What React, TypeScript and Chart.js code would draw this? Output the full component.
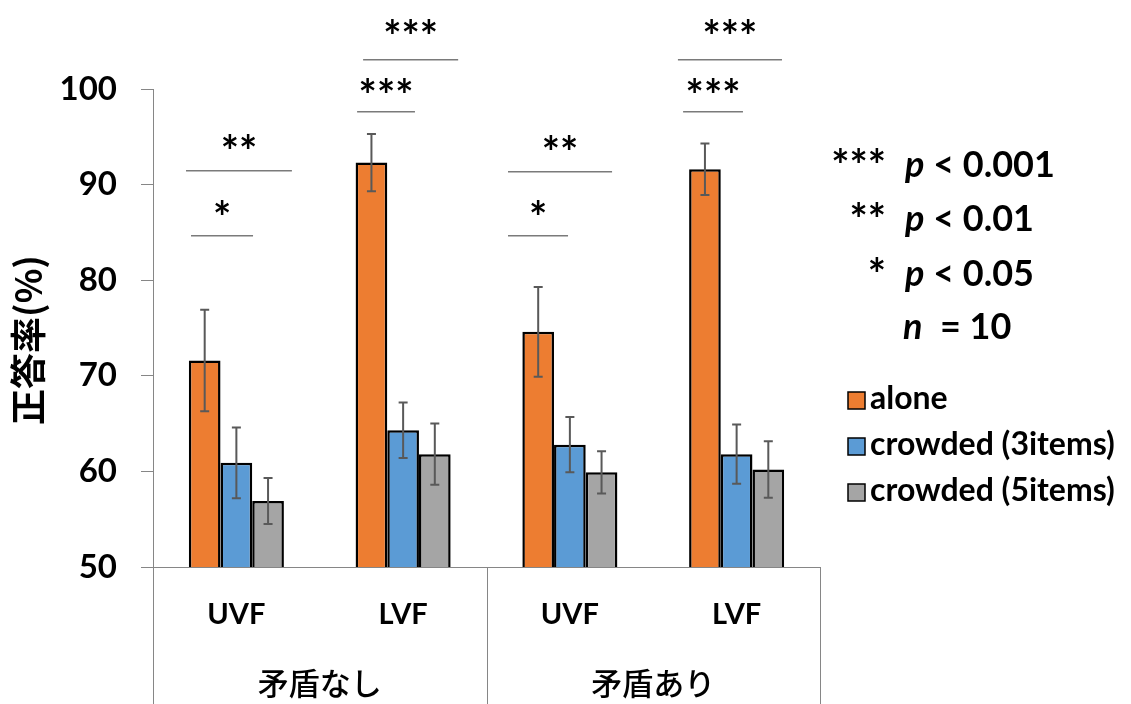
import { useEffect, useRef } from "react";
import { Chart, registerables } from "chart.js";
Chart.register(...registerables);

const categories = ["UVF", "LVF", "UVF", "LVF"];
const groups = ["矛盾なし", "矛盾あり"];
const seriesNames = ["alone", "crowded (3items)", "crowded (5items)"];
const aloneMean = [71.6, 92.3, 74.6, 91.6];
const aloneErr = [5.3, 3.0, 4.7, 2.7];
const crowded3Mean = [60.9, 64.3, 62.8, 61.8];
const crowded3Err = [3.7, 2.9, 2.9, 3.1];
const crowded5Mean = [56.9, 61.8, 59.9, 60.2];
const crowded5Err = [2.4, 3.2, 2.2, 2.95];
const yMin = 50;
const yMax = 100;
const yStep = 10;
const yTitle = "正答率(%)";

// significance brackets: category index, left/right offset (category units), line value, label value
const sigCat = [0, 0, 1, 1, 2, 2, 3, 3];
const sigFrom = [-0.302, -0.272, -0.24, -0.276, -0.371, -0.371, -0.352, -0.321];
const sigTo = [0.333, 0.1, 0.33, 0.071, 0.253, -0.011, 0.272, 0.038];
const sigLineVal = [91.45, 84.64, 103.07, 97.63, 91.34, 84.64, 103.07, 97.63];
const sigLabelVal = [94.48, 87.6, 106.5, 100.4, 94.4, 87.6, 106.5, 100.4];
const sigLabel = ["**", "*", "***", "***", "**", "*", "***", "***"];

const noteStars = ["***", "**", "*", ""];
const noteVar = ["p", "p", "p", "n"];
const noteRest = [" < 0.001", " < 0.01", " < 0.05", "  = 10"];

const colors = ["#ED7D31", "#5B9BD5", "#A5A5A5"];
const errors = [aloneErr, crowded3Err, crowded5Err];
const FONT = "Lato, 'Noto Sans', sans-serif";
const CJK = "'Noto Sans CJK JP', 'Noto Sans', sans-serif";

function fillMid(ctx: CanvasRenderingContext2D, text: string, x: number, cy: number, align: CanvasTextAlign) {
  ctx.textAlign = align;
  ctx.textBaseline = "alphabetic";
  const m = ctx.measureText(text);
  ctx.fillText(text, x, cy + (m.actualBoundingBoxAscent - m.actualBoundingBoxDescent) / 2);
}

const overlay = {
  id: "overlay",
  afterDatasetsDraw(chart: any) {
    const ctx: CanvasRenderingContext2D = chart.ctx;
    const ys = chart.scales.y;
    chart.data.datasets.forEach((ds: any, di: number) => {
      const meta = chart.getDatasetMeta(di);
      meta.data.forEach((bar: any, i: number) => {
        const m = ds.data[i];
        const e = errors[di][i];
        const top = ys.getPixelForValue(m + e);
        const bot = ys.getPixelForValue(m - e);
        ctx.save();
        ctx.strokeStyle = "#595959";
        ctx.lineWidth = 2;
        ctx.beginPath();
        ctx.moveTo(bar.x, top);
        ctx.lineTo(bar.x, bot);
        ctx.moveTo(bar.x - 4.5, top);
        ctx.lineTo(bar.x + 4.5, top);
        ctx.moveTo(bar.x - 4.5, bot);
        ctx.lineTo(bar.x + 4.5, bot);
        ctx.stroke();
        ctx.restore();
      });
    });
  },
  afterDraw(chart: any) {
    const ctx: CanvasRenderingContext2D = chart.ctx;
    const xs = chart.scales.x;
    const ys = chart.scales.y;
    const area = chart.chartArea;
    const unit = xs.getPixelForValue(1) - xs.getPixelForValue(0);
    ctx.save();
    // brackets
    for (let k = 0; k < sigCat.length; k++) {
      const c = xs.getPixelForValue(sigCat[k]);
      const x0 = c + sigFrom[k] * unit;
      const x1 = c + sigTo[k] * unit;
      const ly = ys.getPixelForValue(sigLineVal[k]);
      ctx.strokeStyle = "#7a7a7a";
      ctx.lineWidth = 1.5;
      ctx.beginPath();
      ctx.moveTo(x0, ly);
      ctx.lineTo(x1, ly);
      ctx.stroke();
      ctx.fillStyle = "#000";
      ctx.font = `bold 43px ${FONT}`;
      fillMid(ctx, sigLabel[k], (x0 + x1) / 2, ys.getPixelForValue(sigLabelVal[k]), "center");
    }
    // group separators and labels
    const H = chart.height;
    const seps = [area.left, (xs.getPixelForValue(1) + xs.getPixelForValue(2)) / 2, area.right];
    ctx.strokeStyle = "#868686";
    ctx.lineWidth = 1;
    seps.forEach((sx) => {
      ctx.beginPath();
      ctx.moveTo(Math.round(sx) + 0.5, area.bottom);
      ctx.lineTo(Math.round(sx) + 0.5, H);
      ctx.stroke();
    });
    ctx.fillStyle = "#000";
    ctx.font = `500 31px ${CJK}`;
    groups.forEach((g, gi) => {
      fillMid(ctx, g, (seps[gi] + seps[gi + 1]) / 2, 683, "center");
    });
    // y title
    ctx.save();
    ctx.translate(30, 340);
    ctx.rotate(-Math.PI / 2);
    ctx.font = `bold 36px ${CJK}`;
    fillMid(ctx, yTitle, 0, 0, "center");
    ctx.restore();
    // notes
    const noteBase = [177, 231, 286, 339];
    for (let k = 0; k < noteVar.length; k++) {
      ctx.textBaseline = "alphabetic";
      ctx.font = `bold 43px ${FONT}`;
      ctx.textAlign = "right";
      if (noteStars[k]) ctx.fillText(noteStars[k], 886, noteBase[k] + 4);
      ctx.textAlign = "left";
      ctx.font = `italic bold 36px ${FONT}`;
      const vx = k === 3 ? 903 : 905;
      ctx.fillText(noteVar[k], vx, noteBase[k]);
      const w = ctx.measureText(noteVar[k]).width;
      ctx.font = `bold 36px ${FONT}`;
      ctx.fillText(noteRest[k], vx + w, noteBase[k]);
    }
    // legend
    const legBase = [409, 455, 501];
    seriesNames.forEach((nm, i) => {
      ctx.fillStyle = colors[i];
      ctx.fillRect(848, legBase[i] - 17, 17, 17);
      ctx.strokeStyle = "#000";
      ctx.lineWidth = 1.5;
      ctx.strokeRect(848, legBase[i] - 17, 17, 17);
      ctx.fillStyle = "#000";
      ctx.font = `bold 32px ${FONT}`;
      ctx.textAlign = "left";
      ctx.textBaseline = "alphabetic";
      ctx.fillText(nm, 870, legBase[i]);
    });
    ctx.restore();
  },
};

export default function App() {
  const ref = useRef<HTMLCanvasElement | null>(null);
  useEffect(() => {
    if (!ref.current) return;
    const chart = new Chart(ref.current, {
      type: "bar",
      data: {
        labels: categories,
        datasets: [aloneMean, crowded3Mean, crowded5Mean].map((d, i) => ({
          label: seriesNames[i],
          data: d,
          backgroundColor: colors[i],
          borderColor: "#000",
          borderWidth: 2.5,
          borderSkipped: false,
          categoryPercentage: 0.57,
          barPercentage: 1.0,
        })),
      },
      options: {
        responsive: false,
        animation: false,
        devicePixelRatio: 1,
        layout: { padding: { top: 89, right: 311, left: 0, bottom: 0 } },
        plugins: { legend: { display: false }, tooltip: { enabled: false }, title: { display: false } },
        scales: {
          x: {
            grid: { display: false, drawTicks: false },
            border: { display: true, color: "#868686", width: 1 },
            ticks: { color: "#000", font: { family: FONT, size: 29, weight: "bold" }, padding: 30 },
            afterFit: (s: any) => {
              s.height = 137;
            },
          },
          y: {
            min: yMin,
            max: yMax,
            grid: { drawOnChartArea: false, drawTicks: true, tickLength: 12, color: "#868686" },
            border: { display: true, color: "#868686", width: 1 },
            ticks: { stepSize: yStep, color: "#000", font: { family: FONT, size: 33, weight: "bold" }, padding: 24 },
            afterFit: (s: any) => {
              s.width = 153;
            },
          },
        },
      },
      plugins: [overlay],
    });
    return () => chart.destroy();
  }, []);
  return (
    <div style={{ position: "fixed", left: 0, top: 0, width: 1131, height: 704, background: "#fff" }}>
      <canvas ref={ref} width={1131} height={704} />
    </div>
  );
}
